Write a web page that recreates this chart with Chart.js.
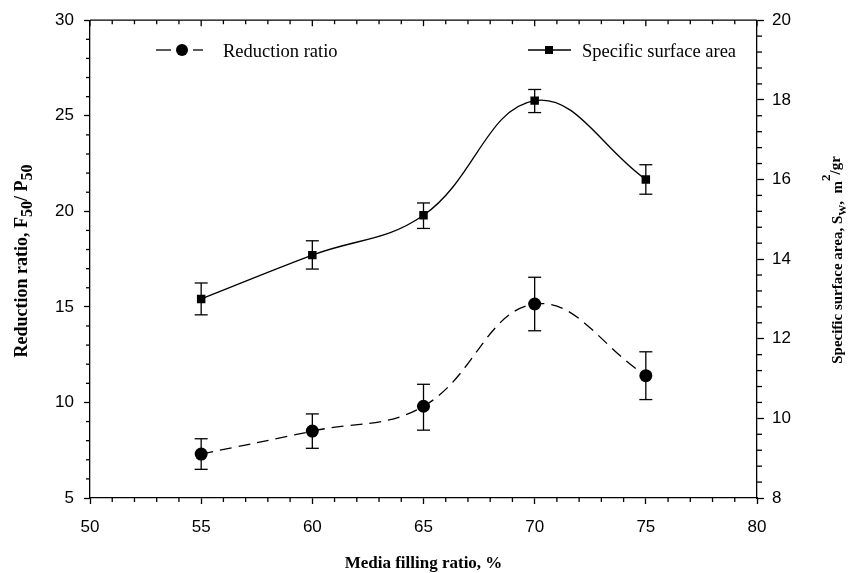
<!DOCTYPE html>
<html>
<head>
<meta charset="utf-8">
<script src="https://cdn.jsdelivr.net/npm/chart.js@4/dist/chart.umd.min.js"></script>
<style>
  body{margin:0;background:#fff}
  canvas{display:block}
</style>
</head>
<body>
<canvas id="chart" width="857" height="573"></canvas>
<script>
// media filling ratio, %
const fillRatio = [55, 60, 65, 70, 75];

// reduction ratio F50/P50 (left axis) with error bar ends
const reductionRatio = [7.3, 8.5, 9.8, 15.15, 11.4];
const reductionLow   = [6.5, 7.6, 8.55, 13.75, 10.15];
const reductionHigh  = [8.1, 9.4, 10.95, 16.55, 12.65];

// specific surface area, m2/gr (right axis) with error bar ends
const surfaceArea = [13.0, 14.1, 15.1, 17.98, 16.0];
const surfaceLow  = [12.6, 13.75, 14.77, 17.68, 15.63];
const surfaceHigh = [13.4, 14.46, 15.41, 18.26, 16.37];

const xTicks  = [50, 55, 60, 65, 70, 75, 80];
const yTicks  = [5, 10, 15, 20, 25, 30];
const y1Ticks = [8, 10, 12, 14, 16, 18, 20];

const SANS = "'Liberation Sans', Arial, sans-serif";
const SERIF = "'Liberation Serif', 'Times New Roman', serif";

function line(ctx, x1, y1, x2, y2) {
  ctx.beginPath(); ctx.moveTo(x1, y1); ctx.lineTo(x2, y2); ctx.stroke();
}

function errBars(ctx, xs, lo, hi, xScale, yScale) {
  xs.forEach((v, i) => {
    const px = xScale.getPixelForValue(v);
    const a = yScale.getPixelForValue(lo[i]), b = yScale.getPixelForValue(hi[i]);
    line(ctx, px, a, px, b);
    line(ctx, px - 6.5, a, px + 6.5, a);
    line(ctx, px - 6.5, b, px + 6.5, b);
  });
}

// draws rotated text made of pieces: [text, fontSize, shift]
function drawPieces(ctx, pieces, weight) {
  let total = 0;
  pieces.forEach(p => { ctx.font = `${weight} ${p[1]}px ${SERIF}`; total += ctx.measureText(p[0]).width; });
  let x = -total / 2;
  pieces.forEach(p => {
    ctx.font = `${weight} ${p[1]}px ${SERIF}`;
    ctx.fillText(p[0], x, p[2]);
    x += ctx.measureText(p[0]).width;
  });
}

const extras = {
  id: 'extras',
  beforeDraw(chart) {
    const ctx = chart.ctx;
    ctx.save(); ctx.fillStyle = '#fff'; ctx.fillRect(0, 0, chart.width, chart.height); ctx.restore();
  },
  beforeDatasetsDraw(chart) {
    const ctx = chart.ctx, s = chart.scales;
    ctx.save();
    ctx.strokeStyle = '#000'; ctx.lineWidth = 1.3;
    errBars(ctx, fillRatio, reductionLow, reductionHigh, s.x, s.y);
    errBars(ctx, fillRatio, surfaceLow, surfaceHigh, s.x, s.y1);
    ctx.restore();
  },
  afterDraw(chart) {
    const ctx = chart.ctx, s = chart.scales, a = chart.chartArea;
    ctx.save();
    ctx.strokeStyle = '#000'; ctx.fillStyle = '#000'; ctx.lineWidth = 1.3;
    // top frame
    line(ctx, a.left, a.top, a.right, a.top);
    // x minor ticks (bottom, outward) and top ticks (inward)
    for (let v = 50; v <= 80; v++) {
      const px = s.x.getPixelForValue(v);
      const major = v % 5 === 0;
      if (!major) line(ctx, px, a.bottom, px, a.bottom + 4);
      line(ctx, px, a.top, px, a.top + (major ? 6 : 4));
    }
    // left minor ticks
    for (let v = 5; v <= 30; v++) {
      if (v % 5 === 0) continue;
      const py = s.y.getPixelForValue(v);
      line(ctx, a.left - 4, py, a.left, py);
    }
    // right minor ticks
    for (let k = 0; k <= 30; k++) {
      if (k % 5 === 0) continue;
      const py = s.y1.getPixelForValue(8 + k * 0.4);
      line(ctx, a.right, py, a.right + 5, py);
    }

    // legend
    ctx.lineWidth = 1.3;
    line(ctx, 156, 50, 171, 50);
    line(ctx, 193, 50, 203, 50);
    ctx.beginPath(); ctx.arc(182, 50, 6, 0, Math.PI * 2); ctx.fill();
    line(ctx, 528, 50, 571, 50);
    ctx.fillRect(545, 46, 8, 8);
    ctx.font = `18.5px ${SERIF}`;
    ctx.textAlign = 'left'; ctx.textBaseline = 'alphabetic';
    ctx.fillText('Reduction ratio', 223, 57);
    ctx.fillText('Specific surface area', 582, 57);

    // x title
    ctx.font = `bold 17px ${SERIF}`;
    ctx.textAlign = 'center';
    ctx.fillText('Media filling ratio, %', (a.left + a.right) / 2, 568);

    // left title
    ctx.save();
    ctx.translate(27, 261); ctx.rotate(-Math.PI / 2);
    ctx.textAlign = 'left';
    drawPieces(ctx, [['Reduction ratio, F', 18, 0], ['50', 16, 5], ['/ P', 18, 0], ['50', 16, 5]], 'bold');
    ctx.restore();

    // right title
    ctx.save();
    ctx.translate(842, 260); ctx.rotate(-Math.PI / 2);
    ctx.textAlign = 'left';
    drawPieces(ctx, [['Specific surface area, S', 15, 0], ['W', 11, 4], [',  m', 15, 0], ['2', 13, -12], ['/gr', 15, -2]], 'bold');
    ctx.restore();

    ctx.restore();
  }
};

const tickFont = { family: SANS, size: 17 };

new Chart(document.getElementById('chart'), {
  type: 'line',
  data: {
    datasets: [
      {
        label: 'Reduction ratio',
        data: fillRatio.map((x, i) => ({ x, y: reductionRatio[i] })),
        yAxisID: 'y',
        borderColor: '#000', backgroundColor: '#000',
        borderWidth: 1.3, borderDash: [12, 7],
        tension: 0.4,
        pointStyle: 'circle', pointRadius: 6.5, pointBorderWidth: 0,
      },
      {
        label: 'Specific surface area',
        data: fillRatio.map((x, i) => ({ x, y: surfaceArea[i] })),
        yAxisID: 'y1',
        borderColor: '#000', backgroundColor: '#000',
        borderWidth: 1.3,
        tension: 0.4,
        pointStyle: 'rect', pointRadius: 6, pointBorderWidth: 0,
      },
    ],
  },
  options: {
    responsive: false, animation: false,
    layout: { padding: { top: 19, left: 0, right: 0, bottom: 0 } },
    plugins: { legend: { display: false }, tooltip: { enabled: false } },
    scales: {
      x: {
        type: 'linear', position: 'bottom', min: 50, max: 80,
        afterBuildTicks: sc => { sc.ticks = xTicks.map(v => ({ value: v })); },
        ticks: { font: tickFont, color: '#000', padding: 13 },
        grid: { drawOnChartArea: false, tickLength: 6, tickColor: '#000', tickWidth: 1.3 },
        border: { color: '#000', width: 1.3 },
        afterFit: sc => { sc.height = 75; },
      },
      y: {
        position: 'left', min: 5, max: 30,
        afterBuildTicks: sc => { sc.ticks = yTicks.map(v => ({ value: v })); },
        ticks: { font: tickFont, color: '#000', padding: 10 },
        grid: { drawOnChartArea: false, tickLength: 6, tickColor: '#000', tickWidth: 1.3 },
        border: { color: '#000', width: 1.3 },
        afterFit: sc => { sc.width = 90; },
      },
      y1: {
        position: 'right', min: 8, max: 20,
        afterBuildTicks: sc => { sc.ticks = y1Ticks.map(v => ({ value: v })); },
        ticks: { font: tickFont, color: '#000', padding: 8 },
        grid: { drawOnChartArea: false, tickLength: 7, tickColor: '#000', tickWidth: 1.3 },
        border: { color: '#000', width: 1.3 },
        afterFit: sc => { sc.width = 100; },
      },
    },
  },
  plugins: [extras],
});
</script>
</body>
</html>
